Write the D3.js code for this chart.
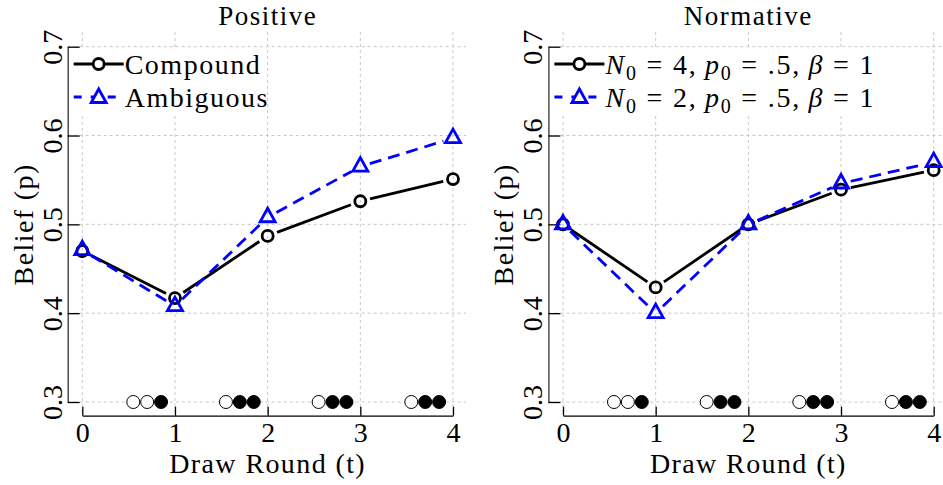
<!DOCTYPE html>
<html>
<head>
<meta charset="utf-8">
<script src="https://cdn.jsdelivr.net/npm/d3@7"></script>
<style>
  body { margin: 0; background: #fff; }
  svg text { font-family: "Liberation Serif", "Times New Roman", serif; fill: #000; }
</style>
</head>
<body>
<svg id="chart" width="943" height="485"></svg>
<script>
// data
var rounds = [0, 1, 2, 3, 4];
var yTicks = [0.3, 0.4, 0.5, 0.6, 0.7];
var positiveCompound = [0.470, 0.417, 0.487, 0.526, 0.551];
var positiveAmbiguous = [0.471, 0.408, 0.508, 0.565, 0.597];
var normativeN4 = [0.500, 0.429, 0.500, 0.539, 0.561];
var normativeN2 = [0.500, 0.400, 0.500, 0.546, 0.570];
// draw sequence shown along the bottom (open = white ball, filled = black ball)
var drawX = [0.55, 0.70, 0.85, 1.55, 1.70, 1.85, 2.55, 2.70, 2.85, 3.55, 3.70, 3.85];
var drawFilled = [0, 0, 1, 0, 1, 1, 0, 1, 1, 0, 1, 1];
var drawLevel = 0.3;

var svg = d3.select("#chart");

function drawPanel(cfg) {
    var x = d3.scaleLinear().domain([0, 4]).range([cfg.x0, cfg.x0 + 370.7]),
        y = d3.scaleLinear().domain([0.3, 0.7]).range([402, 46.7]);
    var axisX = cfg.x0 - 14.6,
        top = 32, bottom = 415.7;

    var g = svg.append("g");

    // grid
    g.selectAll(".hgrid").data(yTicks).enter().append("line")
        .attr("x1", axisX).attr("x2", cfg.gridRight)
        .attr("y1", function(d) { return y(d); })
        .attr("y2", function(d) { return y(d); })
        .attr("stroke", "#c8c8c8").attr("stroke-dasharray", "3,3");
    g.selectAll(".vgrid").data(rounds).enter().append("line")
        .attr("x1", function(d) { return x(d); })
        .attr("x2", function(d) { return x(d); })
        .attr("y1", top).attr("y2", bottom)
        .attr("stroke", "#c8c8c8").attr("stroke-dasharray", "3,3");

    // axes
    var ya = g.append("g")
        .attr("transform", "translate(" + axisX + ",0)")
        .call(d3.axisLeft(y).tickValues(yTicks).tickSize(-12).tickSizeOuter(0)
            .tickFormat(d3.format(".1f")));
    ya.select(".domain").attr("stroke", "#333").attr("stroke-width", 1.3);
    ya.selectAll(".tick line").attr("stroke", "#000").attr("stroke-width", 1.3);
    ya.selectAll("text")
        .attr("x", 0).attr("dy", 0)
        .attr("transform", "translate(-6,0) rotate(-90)")
        .attr("text-anchor", "middle")
        .style("font-size", "28px")
        .style("font-family", "Liberation Serif");

    var xa = g.append("g")
        .attr("transform", "translate(0," + bottom + ")")
        .call(d3.axisBottom(x).tickValues(rounds).tickSize(-9).tickSizeOuter(0)
            .tickFormat(d3.format("d")));
    xa.selectAll(".domain, .tick line").attr("stroke", "#000").attr("stroke-width", 1.3);
    xa.selectAll("text")
        .attr("y", 26).attr("dy", 0)
        .style("font-size", "28px")
        .style("font-family", "Liberation Serif");

    // titles and labels
    g.append("text")
        .attr("x", (x(0) + x(4)) / 2).attr("y", 25)
        .attr("text-anchor", "middle")
        .style("font-size", "27px").style("letter-spacing", "1.5px")
        .text(cfg.title);
    g.append("text")
        .attr("x", (x(0) + x(4)) / 2).attr("y", 473)
        .attr("text-anchor", "middle")
        .style("font-size", "28px").style("letter-spacing", "1.4px")
        .text("Draw Round (t)");
    g.append("text")
        .attr("transform", "translate(" + (axisX - 35) + "," + (y(0.5)) + ") rotate(-90)")
        .attr("text-anchor", "middle")
        .style("font-size", "28px").style("letter-spacing", "1.4px")
        .text("Belief (p)");

    // series lines, trimmed near the markers
    var line = d3.line();
    var gap = 10;
    function segments(vals) {
        var out = [];
        for (var i = 0; i < vals.length - 1; i++) {
            var ax = x(rounds[i]), ay = y(vals[i]),
                bx = x(rounds[i + 1]), by = y(vals[i + 1]);
            var len = Math.hypot(bx - ax, by - ay),
                ux = (bx - ax) / len, uy = (by - ay) / len;
            out.push([[ax + ux * gap, ay + uy * gap], [bx - ux * gap, by - uy * gap]]);
        }
        return out;
    }

    var triangle = "M0,-9L7.5,4.5L-7.5,4.5Z";

    cfg.series.forEach(function(s) {
        g.selectAll(null).data(segments(s.values)).enter().append("path")
            .attr("d", line)
            .attr("fill", "none")
            .attr("stroke", s.color)
            .attr("stroke-width", 2.8)
            .attr("stroke-dasharray", s.dash);
    });
    cfg.series.forEach(function(s) {
        var m = g.selectAll(null).data(s.values).enter();
        if (s.marker === "circle") {
            m.append("circle")
                .attr("cx", function(d, i) { return x(rounds[i]); })
                .attr("cy", function(d) { return y(d); })
                .attr("r", 5.5)
                .attr("fill", "none").attr("stroke", s.color).attr("stroke-width", 2.8);
        } else {
            m.append("path")
                .attr("d", triangle)
                .attr("transform", function(d, i) { return "translate(" + x(rounds[i]) + "," + y(d) + ")"; })
                .attr("fill", "none").attr("stroke", s.color).attr("stroke-width", 2.8)
                .attr("stroke-linejoin", "miter");
        }
    });

    // balls drawn
    g.selectAll(".ball").data(drawX).enter().append("circle")
        .attr("cx", function(d) { return x(d); })
        .attr("cy", y(drawLevel))
        .attr("r", 6.5)
        .attr("fill", function(d, i) { return drawFilled[i] ? "#000" : "#fff"; })
        .attr("stroke", "#000").attr("stroke-width", 1);

    // legend
    var lg = g.append("g");
    lg.append("rect")
        .attr("x", axisX + 3).attr("y", 49)
        .attr("width", cfg.legendWidth).attr("height", 65)
        .attr("fill", "#fff");
    cfg.series.forEach(function(s, i) {
        var cy = 64 + i * 33, lx = axisX + 6;
        lg.append("line")
            .attr("x1", lx).attr("x2", lx + 50)
            .attr("y1", cy).attr("y2", cy)
            .attr("stroke", s.color).attr("stroke-width", 2.8)
            .attr("stroke-dasharray", s.dash ? "8,9" : null);
        if (s.marker === "circle") {
            lg.append("circle").attr("cx", lx + 25).attr("cy", cy).attr("r", 5.5)
                .attr("fill", "#fff").attr("stroke", s.color).attr("stroke-width", 2.8);
        } else {
            lg.append("path").attr("d", triangle)
                .attr("transform", "translate(" + (lx + 25) + "," + (cy + 1) + ")")
                .attr("fill", "#fff").attr("stroke", s.color).attr("stroke-width", 2.8);
        }
        var t = lg.append("text")
            .attr("x", lx + 51).attr("y", cy + 10)
            .style("font-size", "28px").style("letter-spacing", "1.5px");
        s.label(t);
    });
}

function plainLabel(str) {
    return function(t) { t.text(str); };
}
function mathLabel(n) {
    return function(t) {
        t.style("letter-spacing", "1.8px");
        t.append("tspan").style("font-style", "italic").text("N");
        t.append("tspan").attr("dy", 6).style("font-size", "20px").text("0");
        t.append("tspan").attr("dy", -6).text(" = " + n + ",\u2009");
        t.append("tspan").style("font-style", "italic").text("p");
        t.append("tspan").attr("dy", 6).style("font-size", "20px").text("0");
        t.append("tspan").attr("dy", -6).text(" = .5,\u2009");
        t.append("tspan").style("font-style", "italic").text("\u03b2");
        t.append("tspan").text(" = 1");
    };
}

drawPanel({
    title: "Positive",
    x0: 82.3,
    gridRight: 466,
    legendWidth: 196,
    series: [
        {values: positiveCompound, color: "#000", dash: null, marker: "circle", label: plainLabel("Compound")},
        {values: positiveAmbiguous, color: "#0000ff", dash: "12,7", marker: "triangle", label: plainLabel("Ambiguous")}
    ]
});

drawPanel({
    title: "Normative",
    x0: 563,
    gridRight: 943,
    legendWidth: 330,
    series: [
        {values: normativeN4, color: "#000", dash: null, marker: "circle", label: mathLabel(4)},
        {values: normativeN2, color: "#0000ff", dash: "12,7", marker: "triangle", label: mathLabel(2)}
    ]
});
</script>
</body>
</html>
